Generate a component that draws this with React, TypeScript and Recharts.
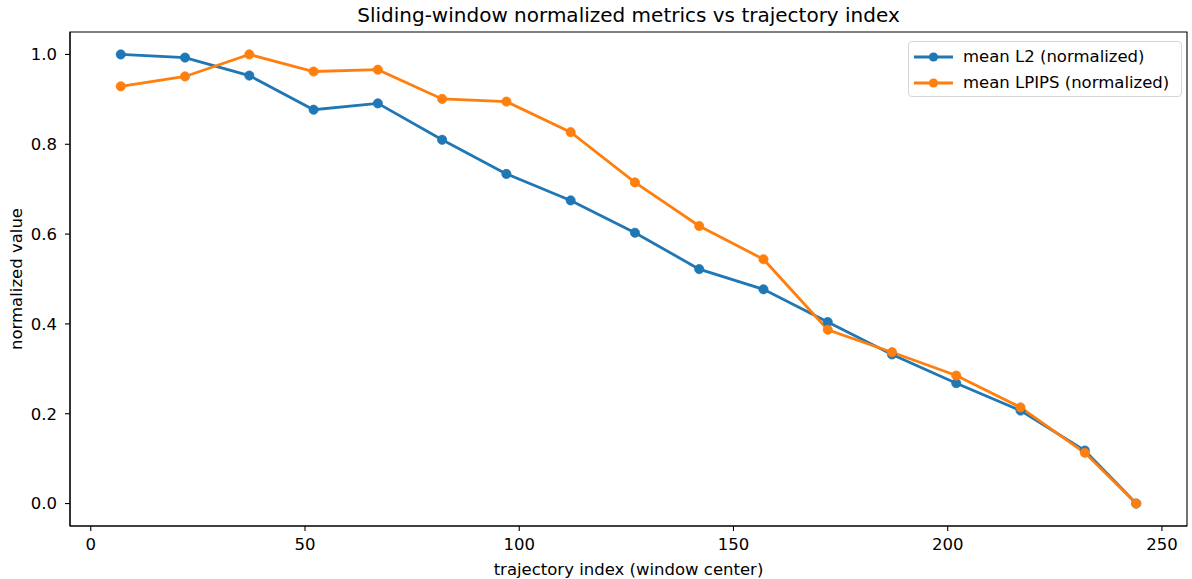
import React from "react";
import {
  LineChart,
  Line,
  XAxis,
  YAxis,
  ReferenceArea,
} from "recharts";

// Window centers along the trajectory
const windowCenters = [7, 22, 37, 52, 67, 82, 97, 112, 127, 142, 157, 172, 187, 202, 217, 232, 244];

// Normalized sliding-window means
const meanL2 = [
  1.0, 0.993, 0.953, 0.877, 0.891, 0.81, 0.734, 0.675, 0.603, 0.522, 0.477, 0.404, 0.332, 0.268,
  0.207, 0.118, 0.0,
];
const meanLPIPS = [
  0.929, 0.951, 1.0, 0.962, 0.966, 0.901, 0.895, 0.827, 0.715, 0.618, 0.544, 0.387, 0.337, 0.285,
  0.214, 0.113, 0.0,
];

const xTicks = [0, 50, 100, 150, 200, 250];
const yTicks = [0, 0.2, 0.4, 0.6, 0.8, 1.0];

const X_DOMAIN: [number, number] = [-4.85, 255.85];
const Y_DOMAIN: [number, number] = [-0.05, 1.05];

const BLUE = "#1f77b4";
const ORANGE = "#ff7f0e";
const FONT = "'DejaVu Sans', sans-serif";
const TEXT_SIZE = 16.5;

const data = windowCenters.map((x, i) => ({ x, l2: meanL2[i], lpips: meanLPIPS[i] }));

const legendItems = [
  { label: "mean L2 (normalized)", color: BLUE },
  { label: "mean LPIPS (normalized)", color: ORANGE },
];

function LegendBox() {
  return (
    <div
      style={{
        position: "absolute",
        left: 908,
        top: 41,
        width: 274,
        height: 56,
        boxSizing: "border-box",
        border: "1px solid #d6d6d6",
        borderRadius: 4,
        background: "rgba(255,255,255,0.8)",
        paddingTop: 2,
        fontFamily: FONT,
        fontSize: TEXT_SIZE,
        color: "#000",
      }}
    >
      {legendItems.map((it) => (
        <div key={it.label} style={{ display: "flex", alignItems: "center", height: 25.7 }}>
          <svg width={54} height={14} style={{ flex: "none" }}>
            <line x1={5} y1={7} x2={44} y2={7} stroke={it.color} strokeWidth={2.8} />
            <circle cx={24.5} cy={7} r={4.6} fill={it.color} />
          </svg>
          <span style={{ whiteSpace: "nowrap" }}>{it.label}</span>
        </div>
      ))}
    </div>
  );
}

export default function App() {
  return (
    <div
      style={{
        position: "absolute",
        left: 0,
        top: 0,
        width: 1192,
        height: 579,
        background: "#fff",
        fontFamily: FONT,
      }}
    >
      <LineChart
        width={1192}
        height={579}
        data={data}
        margin={{ top: 32, right: 5, bottom: 5, left: 0 }}
      >
        <XAxis
          dataKey="x"
          type="number"
          domain={X_DOMAIN}
          allowDataOverflow
          ticks={xTicks}
          height={48}
          tickSize={5}
          tickMargin={7}
          tick={{ fill: "#000", fontSize: TEXT_SIZE, fontFamily: FONT }}
          tickLine={{ stroke: "#000", strokeWidth: 1.1 }}
          axisLine={{ stroke: "#000", strokeWidth: 1.1 }}
        />
        <YAxis
          type="number"
          domain={Y_DOMAIN}
          allowDataOverflow
          ticks={yTicks}
          width={70}
          tickSize={5}
          tickMargin={8}
          tickFormatter={(v: number) => v.toFixed(1)}
          tick={{ fill: "#000", fontSize: TEXT_SIZE, fontFamily: FONT }}
          tickLine={{ stroke: "#000", strokeWidth: 1.1 }}
          axisLine={{ stroke: "#000", strokeWidth: 1.1 }}
        />
        <ReferenceArea
          x1={X_DOMAIN[0]}
          x2={X_DOMAIN[1]}
          y1={Y_DOMAIN[0]}
          y2={Y_DOMAIN[1]}
          fill="none"
          stroke="#000"
          strokeWidth={1.1}
          ifOverflow="visible"
        />
        <Line
          dataKey="l2"
          stroke={BLUE}
          strokeWidth={2.8}
          dot={{ r: 4.6, fill: BLUE, stroke: BLUE, strokeWidth: 0.8 }}
          activeDot={false}
          isAnimationActive={false}
        />
        <Line
          dataKey="lpips"
          stroke={ORANGE}
          strokeWidth={2.8}
          dot={{ r: 4.6, fill: ORANGE, stroke: ORANGE, strokeWidth: 0.8 }}
          activeDot={false}
          isAnimationActive={false}
        />
      </LineChart>
      <LegendBox />
      <div
        style={{
          position: "absolute",
          left: 70,
          width: 1117,
          top: 3,
          textAlign: "center",
          fontSize: 20,
          color: "#000",
          whiteSpace: "nowrap",
        }}
      >
        Sliding-window normalized metrics vs trajectory index
      </div>
      <div
        style={{
          position: "absolute",
          left: 70,
          width: 1117,
          top: 559.5,
          textAlign: "center",
          fontSize: TEXT_SIZE,
          color: "#000",
          whiteSpace: "nowrap",
        }}
      >
        trajectory index (window center)
      </div>
      <div
        style={{
          position: "absolute",
          left: 16,
          top: 279,
          transform: "translate(-50%, -50%) rotate(-90deg)",
          fontSize: TEXT_SIZE,
          color: "#000",
          whiteSpace: "nowrap",
        }}
      >
        normalized value
      </div>
    </div>
  );
}
